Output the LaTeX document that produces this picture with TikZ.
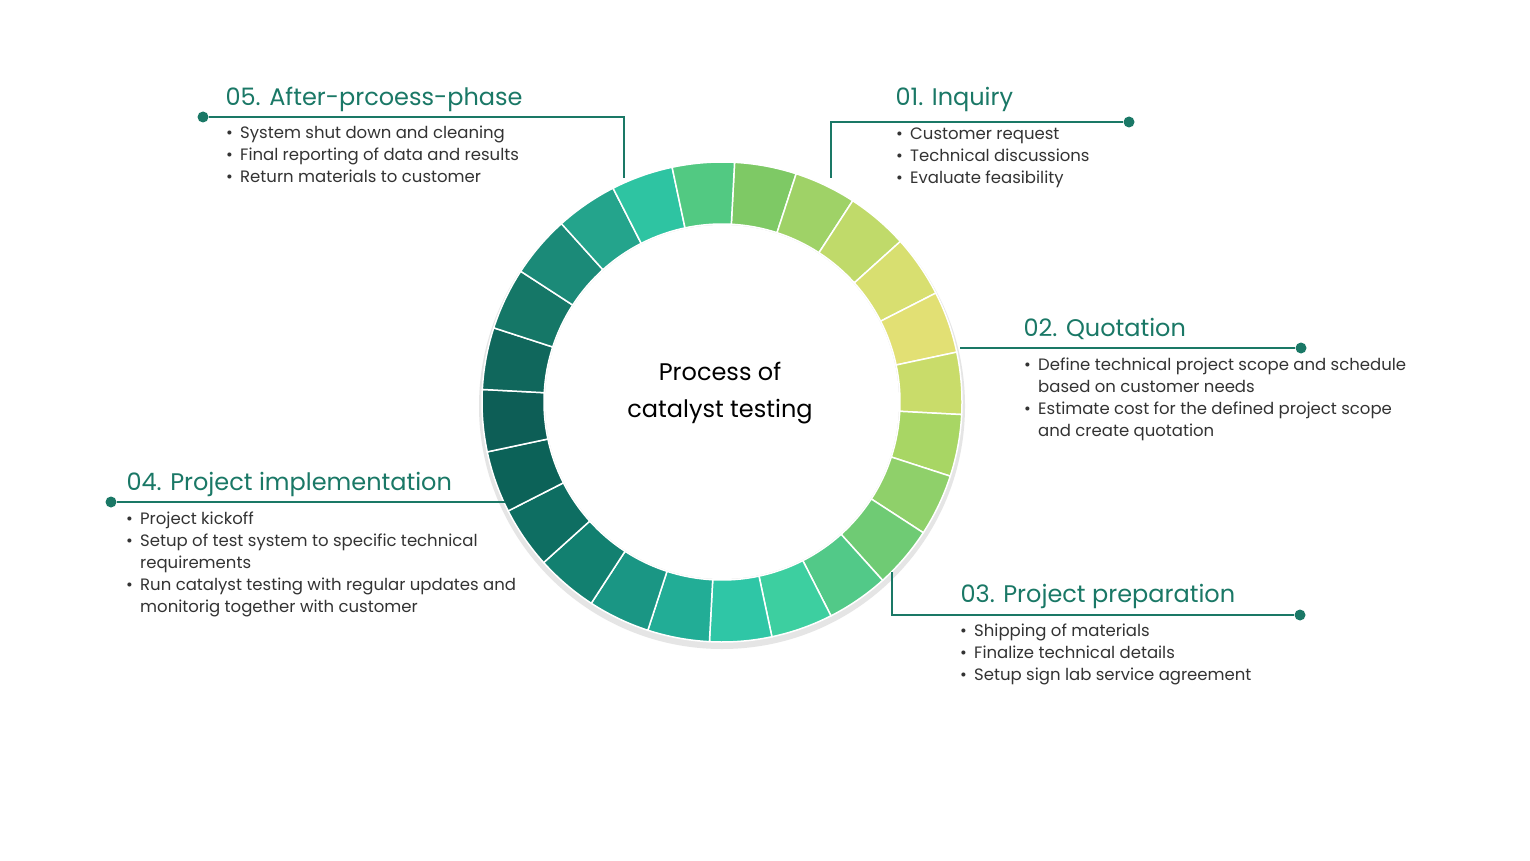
\documentclass[tikz,border=0pt]{standalone}
\usepackage{fontspec}
\setmainfont{Poppins}
\definecolor{teal}{HTML}{1A7866}
\definecolor{txt}{HTML}{333333}
\newcommand{\bul}{\makebox[14pt][l]{\textbullet}}
\newcommand{\nob}{\hspace*{14pt}}
\begin{document}
\begin{tikzpicture}[x=1pt,y=-1pt,
  title/.style={anchor=base west,text=teal,font=\fontsize{24}{28}\selectfont},
  body/.style={anchor=north west,text=txt,font=\fontsize{16.5}{22}\selectfont,align=left,inner sep=0},
  lead/.style={teal,line width=1.4pt},
  dot/.style={circle,fill=teal,inner sep=0,minimum size=11pt}]
\useasboundingbox (0,0) rectangle (1530,861);
\fill[white] (0,0) rectangle (1530,861);
\begin{scope}[shift={(722,402)},y=1pt]
\fill[black!10] (0,-4) circle (243);
\foreach \c [count=\i] in {7EC965,9FD267,C0DA6A,D8DF70,E2E074,C9DC6A,A8D664,8FD06A,6FCB74,52C988,3DCFA0,2FC6A6,22AD96,1A9684,128070,0E6E62,0C6258,0D5E56,10675C,157767,1B8A78,24A48C,2EC4A2,52C982}{
  \definecolor{seg}{HTML}{\c}
  \pgfmathsetmacro\a{87-15*(\i-1)}
  \pgfmathsetmacro\b{\a-15}
  \fill[seg,draw=white,line width=1.5pt] (\a:240) arc[start angle=\a,end angle=\b,radius=240] -- (\b:178) arc[start angle=\b,end angle=\a,radius=178] -- cycle;
}
\fill[white] (0,0) circle (177);
\end{scope}
\node[align=center,text=black,font=\fontsize{24}{37}\selectfont] (center) at (720,393) {Process of\\catalyst testing};
% 05
\node[dot] (d5) at (203,117) {};
\coordinate (c5a) at (624,117); \coordinate (c5b) at (624,178);
\draw[lead] (d5) -- (c5a) -- (c5b);
\node[title] (t5) at (222,106) {05. After-prcoess-phase};
\node[body] (b5) at (226,126) {\bul System shut down and cleaning\\\bul Final reporting of data and results\\\bul Return materials to customer};
% 01
\node[dot] (d1) at (1129,122) {};
\coordinate (c1a) at (831,122); \coordinate (c1b) at (831,178);
\draw[lead] (c1b) -- (c1a) -- (d1);
\node[title] (t1) at (892,106) {01. Inquiry};
\node[body] (b1) at (896,128) {\bul Customer request\\\bul Technical discussions\\\bul Evaluate feasibility};
% 02
\node[dot] (d2) at (1301,348) {};
\coordinate (c2) at (960,348);
\draw[lead] (c2) -- (d2);
\node[title] (t2) at (1020,336) {02. Quotation};
\node[body] (b2) at (1024,358) {\bul Define technical project scope and schedule\\\nob based on customer needs\\\bul Estimate cost for the defined project scope\\\nob and create quotation};
% 04
\node[dot] (d4) at (111,502) {};
\coordinate (c4) at (505,502);
\draw[lead] (d4) -- (c4);
\node[title] (t4) at (123,490) {04. Project implementation};
\node[body] (b4) at (126,512) {\bul Project kickoff\\\bul Setup of test system to specific technical\\\nob requirements\\\bul Run catalyst testing with regular updates and\\\nob monitorig together with customer};
% 03
\node[dot] (d3) at (1300,615) {};
\coordinate (c3a) at (892,572); \coordinate (c3b) at (892,615);
\draw[lead] (c3a) -- (c3b) -- (d3);
\node[title] (t3) at (957,602) {03. Project preparation};
\node[body] (b3) at (960,624) {\bul Shipping of materials\\\bul Finalize technical details\\\bul Setup sign lab service agreement};
\end{tikzpicture}
\end{document}
